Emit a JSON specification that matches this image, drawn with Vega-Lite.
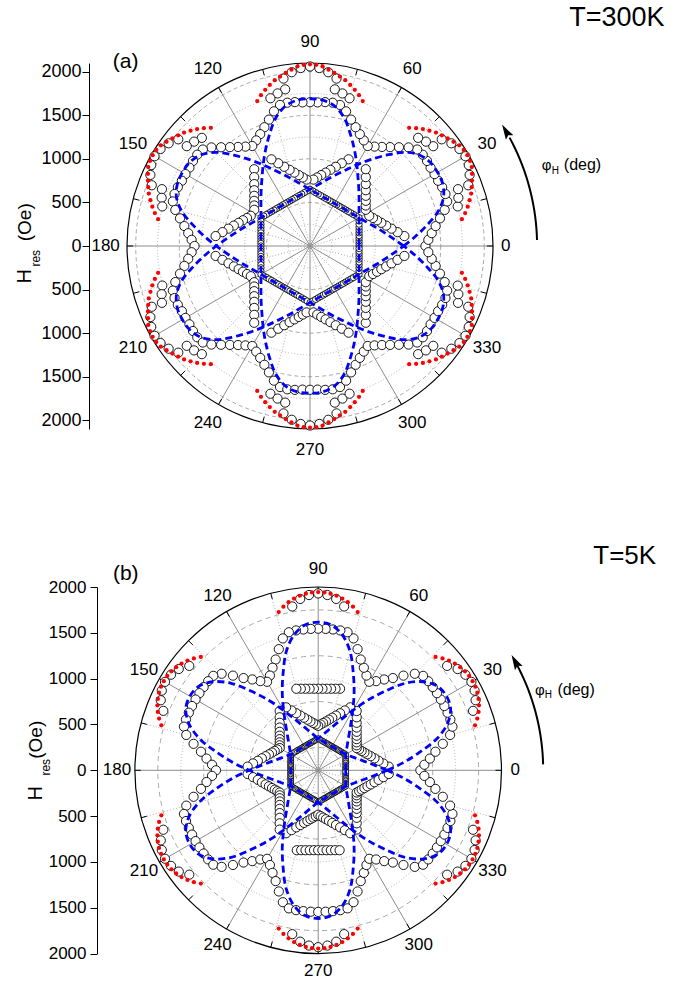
{
"$schema":"https://vega.github.io/schema/vega-lite/v6.json",
"background":"white",
"padding":{"left":14,"top":4,"right":0,"bottom":2},
"config":{"view":{"stroke":null},"text":{"font":"Liberation Sans","color":"black"}},
"bounds":"flush",
"spacing":158,
"datasets":{
"one":[{}],
"spk":[{"a":0},{"a":15},{"a":30},{"a":45},{"a":60},{"a":75},{"a":90},{"a":105},{"a":120},{"a":135},{"a":150},{"a":165},{"a":180},{"a":195},{"a":210},{"a":225},{"a":240},{"a":255},{"a":270},{"a":285},{"a":300},{"a":315},{"a":330},{"a":345}],
"ang":[{"a":0,"t":"0"},{"a":30,"t":"30"},{"a":60,"t":"60"},{"a":90,"t":"90"},{"a":120,"t":"120"},{"a":150,"t":"150"},{"a":180,"t":"180"},{"a":210,"t":"210"},{"a":240,"t":"240"},{"a":270,"t":"270"},{"a":300,"t":"300"},{"a":330,"t":"330"}],
"arr":[{"a":1.5},{"a":3},{"a":4.5},{"a":6},{"a":7.5},{"a":9},{"a":10.5},{"a":12},{"a":13.5},{"a":15},{"a":16.5},{"a":18},{"a":19.5},{"a":21},{"a":22.5},{"a":24},{"a":25.5},{"a":27},{"a":28.5}],
"bluA":[{"f":0,"v":563,"p":1075,"q":1075},{"f":5,"v":565,"p":1210,"q":960},{"f":10,"v":572,"p":1360,"q":870},{"f":15,"v":583,"p":1520,"q":796},{"f":20,"v":599,"p":1630,"q":735},{"f":25,"v":621,"p":1680,"q":687},{"f":30,"v":650,"p":1690,"q":650},{"f":35,"v":687,"p":1680,"q":621},{"f":40,"v":735,"p":1630,"q":599},{"f":45,"v":796,"p":1520,"q":583},{"f":50,"v":870,"p":1360,"q":572},{"f":55,"v":960,"p":1210,"q":565},{"f":60,"v":1075,"p":1075,"q":563},{"f":65,"v":1210,"p":960,"q":565},{"f":70,"v":1360,"p":870,"q":572},{"f":75,"v":1520,"p":796,"q":583},{"f":80,"v":1630,"p":735,"q":599},{"f":85,"v":1680,"p":687,"q":621},{"f":90,"v":1690,"p":650,"q":650},{"f":95,"v":1680,"p":621,"q":687},{"f":100,"v":1630,"p":599,"q":735},{"f":105,"v":1520,"p":583,"q":796},{"f":110,"v":1360,"p":572,"q":870},{"f":115,"v":1210,"p":565,"q":960},{"f":120,"v":1075,"p":563,"q":1075},{"f":125,"v":960,"p":565,"q":1210},{"f":130,"v":870,"p":572,"q":1360},{"f":135,"v":796,"p":583,"q":1520},{"f":140,"v":735,"p":599,"q":1630},{"f":145,"v":687,"p":621,"q":1680},{"f":150,"v":650,"p":650,"q":1690},{"f":155,"v":621,"p":687,"q":1680},{"f":160,"v":599,"p":735,"q":1630},{"f":165,"v":583,"p":796,"q":1520},{"f":170,"v":572,"p":870,"q":1360},{"f":175,"v":565,"p":960,"q":1210},{"f":180,"v":563,"p":1075,"q":1075},{"f":185,"v":565,"p":1210,"q":960},{"f":190,"v":572,"p":1360,"q":870},{"f":195,"v":583,"p":1520,"q":796},{"f":200,"v":599,"p":1630,"q":735},{"f":205,"v":621,"p":1680,"q":687},{"f":210,"v":650,"p":1690,"q":650},{"f":215,"v":687,"p":1680,"q":621},{"f":220,"v":735,"p":1630,"q":599},{"f":225,"v":796,"p":1520,"q":583},{"f":230,"v":870,"p":1360,"q":572},{"f":235,"v":960,"p":1210,"q":565},{"f":240,"v":1075,"p":1075,"q":563},{"f":245,"v":1210,"p":960,"q":565},{"f":250,"v":1360,"p":870,"q":572},{"f":255,"v":1520,"p":796,"q":583},{"f":260,"v":1630,"p":735,"q":599},{"f":265,"v":1680,"p":687,"q":621},{"f":270,"v":1690,"p":650,"q":650},{"f":275,"v":1680,"p":621,"q":687},{"f":280,"v":1630,"p":599,"q":735},{"f":285,"v":1520,"p":583,"q":796},{"f":290,"v":1360,"p":572,"q":870},{"f":295,"v":1210,"p":565,"q":960},{"f":300,"v":1075,"p":563,"q":1075},{"f":305,"v":960,"p":565,"q":1210},{"f":310,"v":870,"p":572,"q":1360},{"f":315,"v":796,"p":583,"q":1520},{"f":320,"v":735,"p":599,"q":1630},{"f":325,"v":687,"p":621,"q":1680},{"f":330,"v":650,"p":650,"q":1690},{"f":335,"v":621,"p":687,"q":1680},{"f":340,"v":599,"p":735,"q":1630},{"f":345,"v":583,"p":796,"q":1520},{"f":350,"v":572,"p":870,"q":1360},{"f":355,"v":565,"p":960,"q":1210},{"f":360,"v":563,"p":1075,"q":1075}],
"bluB":[{"f":0,"v":300,"p":753,"q":753},{"f":5,"v":301,"p":927,"q":622},{"f":10,"v":305,"p":1121,"q":528},{"f":15,"v":311,"p":1343,"q":461},{"f":20,"v":319,"p":1503,"q":412},{"f":25,"v":331,"p":1594,"q":375},{"f":30,"v":346,"p":1617,"q":346},{"f":35,"v":375,"p":1594,"q":331},{"f":40,"v":412,"p":1503,"q":319},{"f":45,"v":461,"p":1343,"q":311},{"f":50,"v":528,"p":1121,"q":305},{"f":55,"v":622,"p":927,"q":301},{"f":60,"v":753,"p":753,"q":300},{"f":65,"v":927,"p":622,"q":301},{"f":70,"v":1121,"p":528,"q":305},{"f":75,"v":1343,"p":461,"q":311},{"f":80,"v":1503,"p":412,"q":319},{"f":85,"v":1594,"p":375,"q":331},{"f":90,"v":1617,"p":346,"q":346},{"f":95,"v":1594,"p":331,"q":375},{"f":100,"v":1503,"p":319,"q":412},{"f":105,"v":1343,"p":311,"q":461},{"f":110,"v":1121,"p":305,"q":528},{"f":115,"v":927,"p":301,"q":622},{"f":120,"v":753,"p":300,"q":753},{"f":125,"v":622,"p":301,"q":927},{"f":130,"v":528,"p":305,"q":1121},{"f":135,"v":461,"p":311,"q":1343},{"f":140,"v":412,"p":319,"q":1503},{"f":145,"v":375,"p":331,"q":1594},{"f":150,"v":346,"p":346,"q":1617},{"f":155,"v":331,"p":375,"q":1594},{"f":160,"v":319,"p":412,"q":1503},{"f":165,"v":311,"p":461,"q":1343},{"f":170,"v":305,"p":528,"q":1121},{"f":175,"v":301,"p":622,"q":927},{"f":180,"v":300,"p":753,"q":753},{"f":185,"v":301,"p":927,"q":622},{"f":190,"v":305,"p":1121,"q":528},{"f":195,"v":311,"p":1343,"q":461},{"f":200,"v":319,"p":1503,"q":412},{"f":205,"v":331,"p":1594,"q":375},{"f":210,"v":346,"p":1617,"q":346},{"f":215,"v":375,"p":1594,"q":331},{"f":220,"v":412,"p":1503,"q":319},{"f":225,"v":461,"p":1343,"q":311},{"f":230,"v":528,"p":1121,"q":305},{"f":235,"v":622,"p":927,"q":301},{"f":240,"v":753,"p":753,"q":300},{"f":245,"v":927,"p":622,"q":301},{"f":250,"v":1121,"p":528,"q":305},{"f":255,"v":1343,"p":461,"q":311},{"f":260,"v":1503,"p":412,"q":319},{"f":265,"v":1594,"p":375,"q":331},{"f":270,"v":1617,"p":346,"q":346},{"f":275,"v":1594,"p":331,"q":375},{"f":280,"v":1503,"p":319,"q":412},{"f":285,"v":1343,"p":311,"q":461},{"f":290,"v":1121,"p":305,"q":528},{"f":295,"v":927,"p":301,"q":622},{"f":300,"v":753,"p":300,"q":753},{"f":305,"v":622,"p":301,"q":927},{"f":310,"v":528,"p":305,"q":1121},{"f":315,"v":461,"p":311,"q":1343},{"f":320,"v":412,"p":319,"q":1503},{"f":325,"v":375,"p":331,"q":1594},{"f":330,"v":346,"p":346,"q":1617},{"f":335,"v":331,"p":375,"q":1594},{"f":340,"v":319,"p":412,"q":1503},{"f":345,"v":311,"p":461,"q":1343},{"f":350,"v":305,"p":528,"q":1121},{"f":355,"v":301,"p":622,"q":927},{"f":360,"v":300,"p":753,"q":753}],
"tA":[
{"f":0,"h":563,"o":1325},{"f":3,"h":564,"o":1360},{"f":6,"h":566,"o":1405,"a":1089},{"f":9,"h":570,"o":1460,"a":1017},{"f":12,"h":576,"o":1525,"a":956},{"f":15,"h":583,"o":1600,"a":905,"w":1755},{"f":18,"h":592,"o":1655,"a":861,"w":1790},{"f":21,"h":603,"o":1665,"a":824,"u":1945,"w":1820},{"f":24,"h":616,"o":1660,"a":791,"u":2005},{"f":27,"h":632,"o":1650,"a":763,"u":2045},{"f":30,"h":650,"o":1650,"u":2060},{"f":33,"h":632,"o":1650,"a":763,"u":2045},{"f":36,"h":616,"o":1660,"a":791,"u":2005},{"f":39,"h":603,"o":1665,"a":824,"u":1945,"w":1820},{"f":42,"h":592,"o":1655,"a":861,"w":1790},{"f":45,"h":583,"o":1600,"a":905,"w":1755},{"f":48,"h":576,"o":1525,"a":956},{"f":51,"h":570,"o":1460,"a":1017},{"f":54,"h":566,"o":1405,"a":1089},{"f":57,"h":564,"o":1360},
{"f":60,"h":563,"o":1325},{"f":63,"h":564,"o":1360},{"f":66,"h":566,"o":1405,"a":1089},{"f":69,"h":570,"o":1460,"a":1017},{"f":72,"h":576,"o":1525,"a":956},{"f":75,"h":583,"o":1600,"a":905,"w":1755},{"f":78,"h":592,"o":1655,"a":861,"w":1790},{"f":81,"h":603,"o":1665,"a":824,"u":1945,"w":1820},{"f":84,"h":616,"o":1660,"a":791,"u":2005},{"f":87,"h":632,"o":1650,"a":763,"u":2045},{"f":90,"h":650,"o":1650,"u":2060},{"f":93,"h":632,"o":1650,"a":763,"u":2045},{"f":96,"h":616,"o":1660,"a":791,"u":2005},{"f":99,"h":603,"o":1665,"a":824,"u":1945,"w":1820},{"f":102,"h":592,"o":1655,"a":861,"w":1790},{"f":105,"h":583,"o":1600,"a":905,"w":1755},{"f":108,"h":576,"o":1525,"a":956},{"f":111,"h":570,"o":1460,"a":1017},{"f":114,"h":566,"o":1405,"a":1089},{"f":117,"h":564,"o":1360},
{"f":120,"h":563,"o":1325},{"f":123,"h":564,"o":1360},{"f":126,"h":566,"o":1405,"a":1089},{"f":129,"h":570,"o":1460,"a":1017},{"f":132,"h":576,"o":1525,"a":956},{"f":135,"h":583,"o":1600,"a":905,"w":1755},{"f":138,"h":592,"o":1655,"a":861,"w":1790},{"f":141,"h":603,"o":1665,"a":824,"u":1945,"w":1820},{"f":144,"h":616,"o":1660,"a":791,"u":2005},{"f":147,"h":632,"o":1650,"a":763,"u":2045},{"f":150,"h":650,"o":1650,"u":2060},{"f":153,"h":632,"o":1650,"a":763,"u":2045},{"f":156,"h":616,"o":1660,"a":791,"u":2005},{"f":159,"h":603,"o":1665,"a":824,"u":1945,"w":1820},{"f":162,"h":592,"o":1655,"a":861,"w":1790},{"f":165,"h":583,"o":1600,"a":905,"w":1755},{"f":168,"h":576,"o":1525,"a":956},{"f":171,"h":570,"o":1460,"a":1017},{"f":174,"h":566,"o":1405,"a":1089},{"f":177,"h":564,"o":1360},
{"f":180,"h":563,"o":1325},{"f":183,"h":564,"o":1360},{"f":186,"h":566,"o":1405,"a":1089},{"f":189,"h":570,"o":1460,"a":1017},{"f":192,"h":576,"o":1525,"a":956},{"f":195,"h":583,"o":1600,"a":905,"w":1755},{"f":198,"h":592,"o":1655,"a":861,"w":1790},{"f":201,"h":603,"o":1665,"a":824,"u":1945,"w":1820},{"f":204,"h":616,"o":1660,"a":791,"u":2005},{"f":207,"h":632,"o":1650,"a":763,"u":2045},{"f":210,"h":650,"o":1650,"u":2060},{"f":213,"h":632,"o":1650,"a":763,"u":2045},{"f":216,"h":616,"o":1660,"a":791,"u":2005},{"f":219,"h":603,"o":1665,"a":824,"u":1945,"w":1820},{"f":222,"h":592,"o":1655,"a":861,"w":1790},{"f":225,"h":583,"o":1600,"a":905,"w":1755},{"f":228,"h":576,"o":1525,"a":956},{"f":231,"h":570,"o":1460,"a":1017},{"f":234,"h":566,"o":1405,"a":1089},{"f":237,"h":564,"o":1360},
{"f":240,"h":563,"o":1325},{"f":243,"h":564,"o":1360},{"f":246,"h":566,"o":1405,"a":1089},{"f":249,"h":570,"o":1460,"a":1017},{"f":252,"h":576,"o":1525,"a":956},{"f":255,"h":583,"o":1600,"a":905,"w":1755},{"f":258,"h":592,"o":1655,"a":861,"w":1790},{"f":261,"h":603,"o":1665,"a":824,"u":1945,"w":1820},{"f":264,"h":616,"o":1660,"a":791,"u":2005},{"f":267,"h":632,"o":1650,"a":763,"u":2045},{"f":270,"h":650,"o":1650,"u":2060},{"f":273,"h":632,"o":1650,"a":763,"u":2045},{"f":276,"h":616,"o":1660,"a":791,"u":2005},{"f":279,"h":603,"o":1665,"a":824,"u":1945,"w":1820},{"f":282,"h":592,"o":1655,"a":861,"w":1790},{"f":285,"h":583,"o":1600,"a":905,"w":1755},{"f":288,"h":576,"o":1525,"a":956},{"f":291,"h":570,"o":1460,"a":1017},{"f":294,"h":566,"o":1405,"a":1089},{"f":297,"h":564,"o":1360},
{"f":300,"h":563,"o":1325},{"f":303,"h":564,"o":1360},{"f":306,"h":566,"o":1405,"a":1089},{"f":309,"h":570,"o":1460,"a":1017},{"f":312,"h":576,"o":1525,"a":956},{"f":315,"h":583,"o":1600,"a":905,"w":1755},{"f":318,"h":592,"o":1655,"a":861,"w":1790},{"f":321,"h":603,"o":1665,"a":824,"u":1945,"w":1820},{"f":324,"h":616,"o":1660,"a":791,"u":2005},{"f":327,"h":632,"o":1650,"a":763,"u":2045},{"f":330,"h":650,"o":1650,"u":2060},{"f":333,"h":632,"o":1650,"a":763,"u":2045},{"f":336,"h":616,"o":1660,"a":791,"u":2005},{"f":339,"h":603,"o":1665,"a":824,"u":1945,"w":1820},{"f":342,"h":592,"o":1655,"a":861,"w":1790},{"f":345,"h":583,"o":1600,"a":905,"w":1755},{"f":348,"h":576,"o":1525,"a":956},{"f":351,"h":570,"o":1460,"a":1017},{"f":354,"h":566,"o":1405,"a":1089},{"f":357,"h":564,"o":1360}],
"tB":[
{"f":0,"h":300,"o":1115},{"f":3,"h":300,"o":1160,"a":771},{"f":6,"h":302,"o":1225,"a":715},{"f":9,"h":304,"o":1295,"a":667},{"f":12,"h":307,"o":1390,"a":628},{"f":15,"h":311,"o":1490,"a":594},{"f":18,"h":315,"o":1540,"a":565},{"f":21,"h":321,"o":1545,"a":540,"u":1810},{"f":24,"h":328,"o":1545,"a":519,"u":1880},{"f":27,"h":337,"o":1545,"a":501,"u":1915},{"f":30,"h":346,"o":1545,"a":485,"u":1930},{"f":33,"h":337,"o":1545,"a":501,"u":1915},{"f":36,"h":328,"o":1545,"a":519,"u":1880},{"f":39,"h":321,"o":1545,"a":540,"u":1810},{"f":42,"h":315,"o":1540,"a":565},{"f":45,"h":311,"o":1490,"a":594},{"f":48,"h":307,"o":1390,"a":628},{"f":51,"h":304,"o":1295,"a":667},{"f":54,"h":302,"o":1225,"a":715},{"f":57,"h":300,"o":1160,"a":771},
{"f":60,"h":300,"o":1115},{"f":63,"h":300,"o":1160,"a":771},{"f":66,"h":302,"o":1225,"a":715},{"f":69,"h":304,"o":1295,"a":667},{"f":72,"h":307,"o":1390,"a":628},{"f":75,"h":311,"o":1490,"a":594,"n":921},{"f":78,"h":315,"o":1540,"a":565,"n":910},{"f":81,"h":321,"o":1545,"a":540,"u":1810,"n":901},{"f":84,"h":328,"o":1545,"a":519,"u":1880,"n":895},{"f":87,"h":337,"o":1545,"a":501,"u":1915,"n":891},{"f":90,"h":346,"o":1545,"a":485,"u":1930,"n":890},{"f":93,"h":337,"o":1545,"a":501,"u":1915,"n":891},{"f":96,"h":328,"o":1545,"a":519,"u":1880,"n":895},{"f":99,"h":321,"o":1545,"a":540,"u":1810,"n":901},{"f":102,"h":315,"o":1540,"a":565,"n":910},{"f":105,"h":311,"o":1490,"a":594,"n":921},{"f":108,"h":307,"o":1390,"a":628},{"f":111,"h":304,"o":1295,"a":667},{"f":114,"h":302,"o":1225,"a":715},{"f":117,"h":300,"o":1160,"a":771},
{"f":120,"h":300,"o":1115},{"f":123,"h":300,"o":1160,"a":771},{"f":126,"h":302,"o":1225,"a":715},{"f":129,"h":304,"o":1295,"a":667},{"f":132,"h":307,"o":1390,"a":628},{"f":135,"h":311,"o":1490,"a":594},{"f":138,"h":315,"o":1540,"a":565},{"f":141,"h":321,"o":1545,"a":540,"u":1810},{"f":144,"h":328,"o":1545,"a":519,"u":1880},{"f":147,"h":337,"o":1545,"a":501,"u":1915},{"f":150,"h":346,"o":1545,"a":485,"u":1930},{"f":153,"h":337,"o":1545,"a":501,"u":1915},{"f":156,"h":328,"o":1545,"a":519,"u":1880},{"f":159,"h":321,"o":1545,"a":540,"u":1810},{"f":162,"h":315,"o":1540,"a":565},{"f":165,"h":311,"o":1490,"a":594},{"f":168,"h":307,"o":1390,"a":628},{"f":171,"h":304,"o":1295,"a":667},{"f":174,"h":302,"o":1225,"a":715},{"f":177,"h":300,"o":1160,"a":771},
{"f":180,"h":300,"o":1115},{"f":183,"h":300,"o":1160,"a":771},{"f":186,"h":302,"o":1225,"a":715},{"f":189,"h":304,"o":1295,"a":667},{"f":192,"h":307,"o":1390,"a":628},{"f":195,"h":311,"o":1490,"a":594},{"f":198,"h":315,"o":1540,"a":565},{"f":201,"h":321,"o":1545,"a":540,"u":1810},{"f":204,"h":328,"o":1545,"a":519,"u":1880},{"f":207,"h":337,"o":1545,"a":501,"u":1915},{"f":210,"h":346,"o":1545,"a":485,"u":1930},{"f":213,"h":337,"o":1545,"a":501,"u":1915},{"f":216,"h":328,"o":1545,"a":519,"u":1880},{"f":219,"h":321,"o":1545,"a":540,"u":1810},{"f":222,"h":315,"o":1540,"a":565},{"f":225,"h":311,"o":1490,"a":594},{"f":228,"h":307,"o":1390,"a":628},{"f":231,"h":304,"o":1295,"a":667},{"f":234,"h":302,"o":1225,"a":715},{"f":237,"h":300,"o":1160,"a":771},
{"f":240,"h":300,"o":1115},{"f":243,"h":300,"o":1160,"a":771},{"f":246,"h":302,"o":1225,"a":715},{"f":249,"h":304,"o":1295,"a":667},{"f":252,"h":307,"o":1390,"a":628},{"f":255,"h":311,"o":1490,"a":594,"n":903},{"f":258,"h":315,"o":1540,"a":565,"n":891},{"f":261,"h":321,"o":1545,"a":540,"u":1810,"n":883},{"f":264,"h":328,"o":1545,"a":519,"u":1880,"n":877},{"f":267,"h":337,"o":1545,"a":501,"u":1915,"n":873},{"f":270,"h":346,"o":1545,"a":485,"u":1930,"n":872},{"f":273,"h":337,"o":1545,"a":501,"u":1915,"n":873},{"f":276,"h":328,"o":1545,"a":519,"u":1880,"n":877},{"f":279,"h":321,"o":1545,"a":540,"u":1810,"n":883},{"f":282,"h":315,"o":1540,"a":565,"n":891},{"f":285,"h":311,"o":1490,"a":594,"n":903},{"f":288,"h":307,"o":1390,"a":628},{"f":291,"h":304,"o":1295,"a":667},{"f":294,"h":302,"o":1225,"a":715},{"f":297,"h":300,"o":1160,"a":771},
{"f":300,"h":300,"o":1115},{"f":303,"h":300,"o":1160,"a":771},{"f":306,"h":302,"o":1225,"a":715},{"f":309,"h":304,"o":1295,"a":667},{"f":312,"h":307,"o":1390,"a":628},{"f":315,"h":311,"o":1490,"a":594},{"f":318,"h":315,"o":1540,"a":565},{"f":321,"h":321,"o":1545,"a":540,"u":1810},{"f":324,"h":328,"o":1545,"a":519,"u":1880},{"f":327,"h":337,"o":1545,"a":501,"u":1915},{"f":330,"h":346,"o":1545,"a":485,"u":1930},{"f":333,"h":337,"o":1545,"a":501,"u":1915},{"f":336,"h":328,"o":1545,"a":519,"u":1880},{"f":339,"h":321,"o":1545,"a":540,"u":1810},{"f":342,"h":315,"o":1540,"a":565},{"f":345,"h":311,"o":1490,"a":594},{"f":348,"h":307,"o":1390,"a":628},{"f":351,"h":304,"o":1295,"a":667},{"f":354,"h":302,"o":1225,"a":715},{"f":357,"h":300,"o":1160,"a":771}],
"redA":[
{"f":10,"r":1770},{"f":12,"r":1820},{"f":14,"r":1865},{"f":16,"r":1905},{"f":18,"r":1945},{"f":20,"r":1975},{"f":22,"r":2005},{"f":24,"r":2035},{"f":26,"r":2065},{"f":28,"r":2080},{"f":30,"r":2085},{"f":32,"r":2080},{"f":34,"r":2065},{"f":36,"r":2035},{"f":38,"r":2005},{"f":40,"r":1975},{"f":42,"r":1945},{"f":44,"r":1905},{"f":46,"r":1865},{"f":48,"r":1820},{"f":50,"r":1770},
{"f":70,"r":1770},{"f":72,"r":1820},{"f":74,"r":1865},{"f":76,"r":1905},{"f":78,"r":1945},{"f":80,"r":1975},{"f":82,"r":2005},{"f":84,"r":2035},{"f":86,"r":2065},{"f":88,"r":2080},{"f":90,"r":2085},{"f":92,"r":2080},{"f":94,"r":2065},{"f":96,"r":2035},{"f":98,"r":2005},{"f":100,"r":1975},{"f":102,"r":1945},{"f":104,"r":1905},{"f":106,"r":1865},{"f":108,"r":1820},{"f":110,"r":1770},
{"f":130,"r":1770},{"f":132,"r":1820},{"f":134,"r":1865},{"f":136,"r":1905},{"f":138,"r":1945},{"f":140,"r":1975},{"f":142,"r":2005},{"f":144,"r":2035},{"f":146,"r":2065},{"f":148,"r":2080},{"f":150,"r":2085},{"f":152,"r":2080},{"f":154,"r":2065},{"f":156,"r":2035},{"f":158,"r":2005},{"f":160,"r":1975},{"f":162,"r":1945},{"f":164,"r":1905},{"f":166,"r":1865},{"f":168,"r":1820},{"f":170,"r":1770},
{"f":190,"r":1770},{"f":192,"r":1820},{"f":194,"r":1865},{"f":196,"r":1905},{"f":198,"r":1945},{"f":200,"r":1975},{"f":202,"r":2005},{"f":204,"r":2035},{"f":206,"r":2065},{"f":208,"r":2080},{"f":210,"r":2085},{"f":212,"r":2080},{"f":214,"r":2065},{"f":216,"r":2035},{"f":218,"r":2005},{"f":220,"r":1975},{"f":222,"r":1945},{"f":224,"r":1905},{"f":226,"r":1865},{"f":228,"r":1820},{"f":230,"r":1770},
{"f":250,"r":1770},{"f":252,"r":1820},{"f":254,"r":1865},{"f":256,"r":1905},{"f":258,"r":1945},{"f":260,"r":1975},{"f":262,"r":2005},{"f":264,"r":2035},{"f":266,"r":2065},{"f":268,"r":2080},{"f":270,"r":2085},{"f":272,"r":2080},{"f":274,"r":2065},{"f":276,"r":2035},{"f":278,"r":2005},{"f":280,"r":1975},{"f":282,"r":1945},{"f":284,"r":1905},{"f":286,"r":1865},{"f":288,"r":1820},{"f":290,"r":1770},
{"f":310,"r":1770},{"f":312,"r":1820},{"f":314,"r":1865},{"f":316,"r":1905},{"f":318,"r":1945},{"f":320,"r":1975},{"f":322,"r":2005},{"f":324,"r":2035},{"f":326,"r":2065},{"f":328,"r":2080},{"f":330,"r":2085},{"f":332,"r":2080},{"f":334,"r":2065},{"f":336,"r":2035},{"f":338,"r":2005},{"f":340,"r":1975},{"f":342,"r":1945},{"f":344,"r":1905},{"f":346,"r":1865},{"f":348,"r":1820},{"f":350,"r":1770}],
"redB":[
{"f":16,"r":1780},{"f":18,"r":1825},{"f":20,"r":1862},{"f":22,"r":1892},{"f":24,"r":1915},{"f":26,"r":1932},{"f":28,"r":1942},{"f":30,"r":1945},{"f":32,"r":1942},{"f":34,"r":1932},{"f":36,"r":1915},{"f":38,"r":1892},{"f":40,"r":1862},{"f":42,"r":1825},{"f":44,"r":1780},
{"f":76,"r":1780},{"f":78,"r":1825},{"f":80,"r":1862},{"f":82,"r":1892},{"f":84,"r":1915},{"f":86,"r":1932},{"f":88,"r":1942},{"f":90,"r":1945},{"f":92,"r":1942},{"f":94,"r":1932},{"f":96,"r":1915},{"f":98,"r":1892},{"f":100,"r":1862},{"f":102,"r":1825},{"f":104,"r":1780},
{"f":136,"r":1780},{"f":138,"r":1825},{"f":140,"r":1862},{"f":142,"r":1892},{"f":144,"r":1915},{"f":146,"r":1932},{"f":148,"r":1942},{"f":150,"r":1945},{"f":152,"r":1942},{"f":154,"r":1932},{"f":156,"r":1915},{"f":158,"r":1892},{"f":160,"r":1862},{"f":162,"r":1825},{"f":164,"r":1780},
{"f":196,"r":1780},{"f":198,"r":1825},{"f":200,"r":1862},{"f":202,"r":1892},{"f":204,"r":1915},{"f":206,"r":1932},{"f":208,"r":1942},{"f":210,"r":1945},{"f":212,"r":1942},{"f":214,"r":1932},{"f":216,"r":1915},{"f":218,"r":1892},{"f":220,"r":1862},{"f":222,"r":1825},{"f":224,"r":1780},
{"f":256,"r":1780},{"f":258,"r":1825},{"f":260,"r":1862},{"f":262,"r":1892},{"f":264,"r":1915},{"f":266,"r":1932},{"f":268,"r":1942},{"f":270,"r":1945},{"f":272,"r":1942},{"f":274,"r":1932},{"f":276,"r":1915},{"f":278,"r":1892},{"f":280,"r":1862},{"f":282,"r":1825},{"f":284,"r":1780},
{"f":316,"r":1780},{"f":318,"r":1825},{"f":320,"r":1862},{"f":322,"r":1892},{"f":324,"r":1915},{"f":326,"r":1932},{"f":328,"r":1942},{"f":330,"r":1945},{"f":332,"r":1942},{"f":334,"r":1932},{"f":336,"r":1915},{"f":338,"r":1892},{"f":340,"r":1862},{"f":342,"r":1825},{"f":344,"r":1780}]
},
"vconcat":[
{
"width":366,"height":366,
"layer":[
{"data":{"name":"one"},"mark":{"type":"point","shape":"circle","filled":false,"stroke":"#b4b4b4","strokeWidth":1,"strokeDash":[1,2],"size":1898,"opacity":1},"encoding":{"x":{"datum":0,"type":"quantitative","axis":null},"y":{"datum":0,"type":"quantitative","title":null}}},
{"data":{"name":"one"},"mark":{"type":"point","shape":"circle","filled":false,"stroke":"#a8a8a8","strokeWidth":1,"strokeDash":[4,3],"size":7594,"opacity":1},"encoding":{"x":{"datum":0,"type":"quantitative","axis":null},"y":{"datum":0,"type":"quantitative","title":null}}},
{"data":{"name":"one"},"mark":{"type":"point","shape":"circle","filled":false,"stroke":"#b4b4b4","strokeWidth":1,"strokeDash":[1,2],"size":17086,"opacity":1},"encoding":{"x":{"datum":0,"type":"quantitative","axis":null},"y":{"datum":0,"type":"quantitative","title":null}}},
{"data":{"name":"one"},"mark":{"type":"point","shape":"circle","filled":false,"stroke":"#a8a8a8","strokeWidth":1,"strokeDash":[4,3],"size":30374,"opacity":1},"encoding":{"x":{"datum":0,"type":"quantitative","axis":null},"y":{"datum":0,"type":"quantitative","title":null}}},
{"data":{"name":"one"},"mark":{"type":"point","shape":"circle","filled":false,"stroke":"#b4b4b4","strokeWidth":1,"strokeDash":[1,2],"size":47460,"opacity":1},"encoding":{"x":{"datum":0,"type":"quantitative","axis":null},"y":{"datum":0,"type":"quantitative","title":null}}},
{"data":{"name":"one"},"mark":{"type":"point","shape":"circle","filled":false,"stroke":"#a8a8a8","strokeWidth":1,"strokeDash":[4,3],"size":68343,"opacity":1},"encoding":{"x":{"datum":0,"type":"quantitative","axis":null},"y":{"datum":0,"type":"quantitative","title":null}}},
{"data":{"name":"one"},"mark":{"type":"point","shape":"circle","filled":false,"stroke":"#b4b4b4","strokeWidth":1,"strokeDash":[1,2],"size":93022,"opacity":1},"encoding":{"x":{"datum":0,"type":"quantitative","axis":null},"y":{"datum":0,"type":"quantitative","title":null}}},
{"data":{"name":"one"},"mark":{"type":"point","shape":"circle","filled":false,"stroke":"#a8a8a8","strokeWidth":1,"strokeDash":[4,3],"size":121497,"opacity":1},"encoding":{"x":{"datum":0,"type":"quantitative","axis":null},"y":{"datum":0,"type":"quantitative","title":null}}},
{"data":{"name":"spk"},"transform":[{"filter":"datum.a % 30 != 0"},{"calculate":"2100*cos(datum.a*PI/180)","as":"x"},{"calculate":"2100*sin(datum.a*PI/180)","as":"y"}],"mark":{"type":"rule","color":"#b0b0b0","strokeWidth":1,"strokeDash":[1,2]},"encoding":{"x":{"field":"x","type":"quantitative","scale":{"domain":[-2100,2100],"nice":false,"zero":false},"axis":null},"y":{"field":"y","type":"quantitative","title":null,"scale":{"domain":[-2100,2100],"nice":false,"zero":false},"axis":{"values":[-2000,-1750,-1500,-1250,-1000,-750,-500,-250,0,250,500,750,1000,1250,1500,1750,2000],"labelExpr":"datum.value % 500 == 0 ? format(abs(datum.value),'d') : ''","tickSize":{"condition":{"test":"datum.value % 500 == 0","value":7},"value":4},"offset":38,"title":null,"grid":false,"domainColor":"#000000","tickColor":"#000000","labelColor":"#000000","labelFont":"Liberation Sans","labelFontSize":18,"labelPadding":1,"labelOverlap":false,"labelFlush":false,"labelBound":false,"domainWidth":1,"tickWidth":1}},"x2":{"datum":0},"y2":{"datum":0}}},
{"data":{"name":"spk"},"transform":[{"filter":"datum.a % 30 == 0"},{"calculate":"2100*cos(datum.a*PI/180)","as":"x"},{"calculate":"2100*sin(datum.a*PI/180)","as":"y"}],"mark":{"type":"rule","color":"#8c8c8c","strokeWidth":1},"encoding":{"x":{"field":"x","type":"quantitative","axis":null},"y":{"field":"y","type":"quantitative","title":null},"x2":{"datum":0},"y2":{"datum":0}}},
{"data":{"name":"one"},"mark":{"type":"point","shape":"circle","filled":false,"stroke":"#000000","strokeWidth":1.2,"size":133956,"opacity":1},"encoding":{"x":{"datum":0,"type":"quantitative","axis":null},"y":{"datum":0,"type":"quantitative","title":null}}},
{"data":{"name":"spk"},"transform":[{"calculate":"2030*cos(datum.a*PI/180)","as":"x"},{"calculate":"2030*sin(datum.a*PI/180)","as":"y"},{"calculate":"2100*cos(datum.a*PI/180)","as":"x2"},{"calculate":"2100*sin(datum.a*PI/180)","as":"y2"}],"mark":{"type":"rule","color":"#000000","strokeWidth":1},"encoding":{"x":{"field":"x","type":"quantitative","axis":null},"y":{"field":"y","type":"quantitative","title":null},"x2":{"field":"x2"},"y2":{"field":"y2"}}},
{"data":{"name":"tA"},"transform":[{"calculate":"datum.h*cos(datum.f*PI/180)","as":"x"},{"calculate":"datum.h*sin(datum.f*PI/180)","as":"y"}],"mark":{"type":"point","shape":"circle","filled":true,"fill":"#ffffff","stroke":"#000000","strokeWidth":0.9,"size":40,"opacity":1},"encoding":{"x":{"field":"x","type":"quantitative","axis":null},"y":{"field":"y","type":"quantitative","title":null}}},
{"data":{"name":"tA"},"transform":[{"fold":["o","a","u","w"],"as":["k","r"]},{"filter":"isValid(datum.r)"},{"calculate":"datum.r*cos(datum.f*PI/180)","as":"x"},{"calculate":"datum.r*sin(datum.f*PI/180)","as":"y"}],"mark":{"type":"point","shape":"circle","filled":true,"fill":"#ffffff","stroke":"#000000","strokeWidth":0.9,"size":85,"opacity":1},"encoding":{"x":{"field":"x","type":"quantitative","axis":null},"y":{"field":"y","type":"quantitative","title":null}}},
{"data":{"name":"redA"},"transform":[{"calculate":"datum.r*cos(datum.f*PI/180)","as":"x"},{"calculate":"datum.r*sin(datum.f*PI/180)","as":"y"}],"mark":{"type":"point","shape":"circle","filled":true,"fill":"#ff0000","strokeWidth":0,"size":18,"opacity":1},"encoding":{"x":{"field":"x","type":"quantitative","axis":null},"y":{"field":"y","type":"quantitative","title":null}}},
{"data":{"name":"bluA"},"transform":[{"fold":["v","p","q"],"as":["c","r"]},{"calculate":"datum.r*cos(datum.f*PI/180)","as":"x"},{"calculate":"datum.r*sin(datum.f*PI/180)","as":"y"}],"mark":{"type":"line","color":"#0000ff","strokeWidth":2.8,"strokeDash":[7,4],"interpolate":"catmull-rom"},"encoding":{"x":{"field":"x","type":"quantitative","axis":null},"y":{"field":"y","type":"quantitative","title":null},"detail":{"field":"c"},"order":{"field":"f","type":"quantitative"}}},
{"data":{"name":"ang"},"transform":[{"filter":"datum.a != 0"},{"calculate":"2345*cos(datum.a*PI/180)","as":"x"},{"calculate":"2345*sin(datum.a*PI/180)","as":"y"}],"mark":{"type":"text","fontSize":17,"align":"center","baseline":"middle"},"encoding":{"x":{"field":"x","type":"quantitative","axis":null},"y":{"field":"y","type":"quantitative","title":null},"text":{"field":"t","type":"nominal"}}},
{"data":{"name":"ang"},"transform":[{"filter":"datum.a == 0"},{"calculate":"2247*cos(datum.a*PI/180)","as":"x"},{"calculate":"2247*sin(datum.a*PI/180)","as":"y"}],"mark":{"type":"text","fontSize":17,"align":"center","baseline":"middle"},"encoding":{"x":{"field":"x","type":"quantitative","axis":null},"y":{"field":"y","type":"quantitative","title":null},"text":{"field":"t","type":"nominal"}}},
{"data":{"name":"arr"},"transform":[{"calculate":"2606*cos(datum.a*PI/180)","as":"x"},{"calculate":"2606*sin(datum.a*PI/180)","as":"y"}],"mark":{"type":"line","color":"#000000","strokeWidth":2},"encoding":{"x":{"field":"x","type":"quantitative","axis":null},"y":{"field":"y","type":"quantitative","title":null},"order":{"field":"a","type":"quantitative"}}},
{"data":{"values":[{"a":30.3}]},"transform":[{"calculate":"2606*cos(datum.a*PI/180)","as":"x"},{"calculate":"2606*sin(datum.a*PI/180)","as":"y"}],"mark":{"type":"point","shape":"M0,-1L0.55,0.9L0,0.55L-0.55,0.9Z","filled":true,"color":"#000000","size":250,"angle":329.7,"opacity":1},"encoding":{"x":{"field":"x","type":"quantitative","axis":null},"y":{"field":"y","type":"quantitative","title":null}}},
{"data":{"name":"one"},"mark":{"type":"text","text":"T=300K","fontSize":27,"align":"center","baseline":"middle"},"encoding":{"x":{"datum":3521,"type":"quantitative","axis":null},"y":{"datum":2614,"type":"quantitative","title":null}}},
{"data":{"name":"one"},"mark":{"type":"text","text":"(a)","fontSize":21,"align":"center","baseline":"middle"},"encoding":{"x":{"datum":-2116,"type":"quantitative","axis":null},"y":{"datum":2109,"type":"quantitative","title":null}}},
{"data":{"name":"one"},"mark":{"type":"text","text":"φ","fontSize":15,"align":"left","baseline":"middle"},"encoding":{"x":{"datum":2660,"type":"quantitative","axis":null},"y":{"datum":926,"type":"quantitative","title":null}}},
{"data":{"name":"one"},"mark":{"type":"text","text":"H","fontSize":10,"align":"left","baseline":"middle"},"encoding":{"x":{"datum":2775,"type":"quantitative","axis":null},"y":{"datum":862,"type":"quantitative","title":null}}},
{"data":{"name":"one"},"mark":{"type":"text","text":"(deg)","fontSize":16,"align":"left","baseline":"middle"},"encoding":{"x":{"datum":2913,"type":"quantitative","axis":null},"y":{"datum":926,"type":"quantitative","title":null}}},
{"data":{"name":"one"},"mark":{"type":"text","text":"(Oe)","fontSize":19,"angle":270,"align":"center","baseline":"middle"},"encoding":{"x":{"datum":-3276,"type":"quantitative","axis":null},"y":{"datum":272,"type":"quantitative","title":null}}},
{"data":{"name":"one"},"mark":{"type":"text","text":"res","fontSize":12,"angle":270,"align":"center","baseline":"middle"},"encoding":{"x":{"datum":-3144,"type":"quantitative","axis":null},"y":{"datum":-141,"type":"quantitative","title":null}}},
{"data":{"name":"one"},"mark":{"type":"text","text":"H","fontSize":20,"angle":270,"align":"center","baseline":"middle"},"encoding":{"x":{"datum":-3276,"type":"quantitative","axis":null},"y":{"datum":-348,"type":"quantitative","title":null}}}
]
},
{
"width":374.5,"height":366.6,
"layer":[
{"data":{"name":"one"},"mark":{"type":"point","shape":"circle","filled":false,"stroke":"#a8a8a8","strokeWidth":1,"strokeDash":[5,4],"size":2100,"opacity":1},"encoding":{"x":{"datum":0,"type":"quantitative","axis":null},"y":{"datum":0,"type":"quantitative","title":null}}},
{"data":{"name":"one"},"mark":{"type":"point","shape":"circle","filled":false,"stroke":"#b4b4b4","strokeWidth":1,"strokeDash":[1,2],"size":8400,"opacity":1},"encoding":{"x":{"datum":0,"type":"quantitative","axis":null},"y":{"datum":0,"type":"quantitative","title":null}}},
{"data":{"name":"one"},"mark":{"type":"point","shape":"circle","filled":false,"stroke":"#a8a8a8","strokeWidth":1,"strokeDash":[5,4],"size":18904,"opacity":1},"encoding":{"x":{"datum":0,"type":"quantitative","axis":null},"y":{"datum":0,"type":"quantitative","title":null}}},
{"data":{"name":"one"},"mark":{"type":"point","shape":"circle","filled":false,"stroke":"#b4b4b4","strokeWidth":1,"strokeDash":[1,2],"size":33599,"opacity":1},"encoding":{"x":{"datum":0,"type":"quantitative","axis":null},"y":{"datum":0,"type":"quantitative","title":null}}},
{"data":{"name":"one"},"mark":{"type":"point","shape":"circle","filled":false,"stroke":"#a8a8a8","strokeWidth":1,"strokeDash":[5,4],"size":52497,"opacity":1},"encoding":{"x":{"datum":0,"type":"quantitative","axis":null},"y":{"datum":0,"type":"quantitative","title":null}}},
{"data":{"name":"one"},"mark":{"type":"point","shape":"circle","filled":false,"stroke":"#b4b4b4","strokeWidth":1,"strokeDash":[1,2],"size":75597,"opacity":1},"encoding":{"x":{"datum":0,"type":"quantitative","axis":null},"y":{"datum":0,"type":"quantitative","title":null}}},
{"data":{"name":"one"},"mark":{"type":"point","shape":"circle","filled":false,"stroke":"#a8a8a8","strokeWidth":1,"strokeDash":[5,4],"size":102900,"opacity":1},"encoding":{"x":{"datum":0,"type":"quantitative","axis":null},"y":{"datum":0,"type":"quantitative","title":null}}},
{"data":{"name":"spk"},"transform":[{"filter":"datum.a % 30 != 0"},{"calculate":"2000*cos(datum.a*PI/180)","as":"x"},{"calculate":"2000*sin(datum.a*PI/180)","as":"y"}],"mark":{"type":"rule","color":"#b0b0b0","strokeWidth":1,"strokeDash":[1,2]},"encoding":{"x":{"field":"x","type":"quantitative","scale":{"domain":[-2086,2000],"nice":false,"zero":false},"axis":null},"y":{"field":"y","type":"quantitative","title":null,"scale":{"domain":[-2000,2000],"nice":false,"zero":false},"axis":{"values":[-2000,-1750,-1500,-1250,-1000,-750,-500,-250,0,250,500,750,1000,1250,1500,1750,2000],"labelExpr":"datum.value % 500 == 0 ? format(abs(datum.value),'d') : ''","tickSize":{"condition":{"test":"datum.value % 500 == 0","value":7},"value":4},"offset":30,"title":null,"grid":false,"domainColor":"#000000","tickColor":"#000000","labelColor":"#000000","labelFont":"Liberation Sans","labelFontSize":17,"labelPadding":4,"labelOverlap":false,"labelFlush":false,"labelBound":false,"domainWidth":1,"tickWidth":1}},"x2":{"datum":0},"y2":{"datum":0}}},
{"data":{"name":"spk"},"transform":[{"filter":"datum.a % 30 == 0"},{"calculate":"2000*cos(datum.a*PI/180)","as":"x"},{"calculate":"2000*sin(datum.a*PI/180)","as":"y"}],"mark":{"type":"rule","color":"#8c8c8c","strokeWidth":1},"encoding":{"x":{"field":"x","type":"quantitative","axis":null},"y":{"field":"y","type":"quantitative","title":null},"x2":{"datum":0},"y2":{"datum":0}}},
{"data":{"name":"one"},"mark":{"type":"point","shape":"circle","filled":false,"stroke":"#000000","strokeWidth":1.2,"size":134396,"opacity":1},"encoding":{"x":{"datum":0,"type":"quantitative","axis":null},"y":{"datum":0,"type":"quantitative","title":null}}},
{"data":{"name":"spk"},"transform":[{"calculate":"1935*cos(datum.a*PI/180)","as":"x"},{"calculate":"1935*sin(datum.a*PI/180)","as":"y"},{"calculate":"2000*cos(datum.a*PI/180)","as":"x2"},{"calculate":"2000*sin(datum.a*PI/180)","as":"y2"}],"mark":{"type":"rule","color":"#000000","strokeWidth":1},"encoding":{"x":{"field":"x","type":"quantitative","axis":null},"y":{"field":"y","type":"quantitative","title":null},"x2":{"field":"x2"},"y2":{"field":"y2"}}},
{"data":{"name":"tB"},"transform":[{"calculate":"datum.h*cos(datum.f*PI/180)","as":"x"},{"calculate":"datum.h*sin(datum.f*PI/180)","as":"y"}],"mark":{"type":"point","shape":"circle","filled":true,"fill":"#ffffff","stroke":"#000000","strokeWidth":0.9,"size":34,"opacity":1},"encoding":{"x":{"field":"x","type":"quantitative","axis":null},"y":{"field":"y","type":"quantitative","title":null}}},
{"data":{"name":"tB"},"transform":[{"fold":["o","a","u","n"],"as":["k","r"]},{"filter":"isValid(datum.r)"},{"calculate":"datum.r*cos(datum.f*PI/180)","as":"x"},{"calculate":"datum.r*sin(datum.f*PI/180)","as":"y"}],"mark":{"type":"point","shape":"circle","filled":true,"fill":"#ffffff","stroke":"#000000","strokeWidth":0.9,"size":85,"opacity":1},"encoding":{"x":{"field":"x","type":"quantitative","axis":null},"y":{"field":"y","type":"quantitative","title":null}}},
{"data":{"name":"redB"},"transform":[{"calculate":"datum.r*cos(datum.f*PI/180)","as":"x"},{"calculate":"datum.r*sin(datum.f*PI/180)","as":"y"}],"mark":{"type":"point","shape":"circle","filled":true,"fill":"#ff0000","strokeWidth":0,"size":18,"opacity":1},"encoding":{"x":{"field":"x","type":"quantitative","axis":null},"y":{"field":"y","type":"quantitative","title":null}}},
{"data":{"name":"bluB"},"transform":[{"fold":["v","p","q"],"as":["c","r"]},{"calculate":"datum.r*cos(datum.f*PI/180)","as":"x"},{"calculate":"datum.r*sin(datum.f*PI/180)","as":"y"}],"mark":{"type":"line","color":"#0000ff","strokeWidth":2.8,"strokeDash":[7,4],"interpolate":"catmull-rom"},"encoding":{"x":{"field":"x","type":"quantitative","axis":null},"y":{"field":"y","type":"quantitative","title":null},"detail":{"field":"c"},"order":{"field":"f","type":"quantitative"}}},
{"data":{"name":"ang"},"transform":[{"filter":"datum.a != 0"},{"calculate":"2195*cos(datum.a*PI/180)","as":"x"},{"calculate":"2195*sin(datum.a*PI/180)","as":"y"}],"mark":{"type":"text","fontSize":17,"align":"center","baseline":"middle"},"encoding":{"x":{"field":"x","type":"quantitative","axis":null},"y":{"field":"y","type":"quantitative","title":null},"text":{"field":"t","type":"nominal"}}},
{"data":{"name":"ang"},"transform":[{"filter":"datum.a == 0"},{"calculate":"2150*cos(datum.a*PI/180)","as":"x"},{"calculate":"2150*sin(datum.a*PI/180)","as":"y"}],"mark":{"type":"text","fontSize":17,"align":"center","baseline":"middle"},"encoding":{"x":{"field":"x","type":"quantitative","axis":null},"y":{"field":"y","type":"quantitative","title":null},"text":{"field":"t","type":"nominal"}}},
{"data":{"name":"arr"},"transform":[{"calculate":"2455*cos(datum.a*PI/180)","as":"x"},{"calculate":"2455*sin(datum.a*PI/180)","as":"y"}],"mark":{"type":"line","color":"#000000","strokeWidth":2},"encoding":{"x":{"field":"x","type":"quantitative","axis":null},"y":{"field":"y","type":"quantitative","title":null},"order":{"field":"a","type":"quantitative"}}},
{"data":{"values":[{"a":28.8}]},"transform":[{"calculate":"2455*cos(datum.a*PI/180)","as":"x"},{"calculate":"2455*sin(datum.a*PI/180)","as":"y"}],"mark":{"type":"point","shape":"M0,-1L0.55,0.9L0,0.55L-0.55,0.9Z","filled":true,"color":"#000000","size":250,"angle":331.2,"opacity":1},"encoding":{"x":{"field":"x","type":"quantitative","axis":null},"y":{"field":"y","type":"quantitative","title":null}}},
{"data":{"name":"one"},"mark":{"type":"text","text":"T=5K","fontSize":26,"align":"center","baseline":"middle"},"encoding":{"x":{"datum":3344,"type":"quantitative","axis":null},"y":{"datum":2335,"type":"quantitative","title":null}}},
{"data":{"name":"one"},"mark":{"type":"text","text":"(b)","fontSize":21,"align":"center","baseline":"middle"},"encoding":{"x":{"datum":-2100,"type":"quantitative","axis":null},"y":{"datum":2139,"type":"quantitative","title":null}}},
{"data":{"name":"one"},"mark":{"type":"text","text":"φ","fontSize":15,"align":"left","baseline":"middle"},"encoding":{"x":{"datum":2366,"type":"quantitative","axis":null},"y":{"datum":873,"type":"quantitative","title":null}}},
{"data":{"name":"one"},"mark":{"type":"text","text":"H","fontSize":10,"align":"left","baseline":"middle"},"encoding":{"x":{"datum":2471,"type":"quantitative","axis":null},"y":{"datum":822,"type":"quantitative","title":null}}},
{"data":{"name":"one"},"mark":{"type":"text","text":"(deg)","fontSize":16,"align":"left","baseline":"middle"},"encoding":{"x":{"datum":2610,"type":"quantitative","axis":null},"y":{"datum":873,"type":"quantitative","title":null}}},
{"data":{"name":"one"},"mark":{"type":"text","text":"(Oe)","fontSize":19,"angle":270,"align":"center","baseline":"middle"},"encoding":{"x":{"datum":-3082,"type":"quantitative","axis":null},"y":{"datum":333,"type":"quantitative","title":null}}},
{"data":{"name":"one"},"mark":{"type":"text","text":"res","fontSize":12,"angle":270,"align":"center","baseline":"middle"},"encoding":{"x":{"datum":-2973,"type":"quantitative","axis":null},"y":{"datum":33,"type":"quantitative","title":null}}},
{"data":{"name":"one"},"mark":{"type":"text","text":"H","fontSize":20,"angle":270,"align":"center","baseline":"middle"},"encoding":{"x":{"datum":-3082,"type":"quantitative","axis":null},"y":{"datum":-251,"type":"quantitative","title":null}}}
]
}
]
}
